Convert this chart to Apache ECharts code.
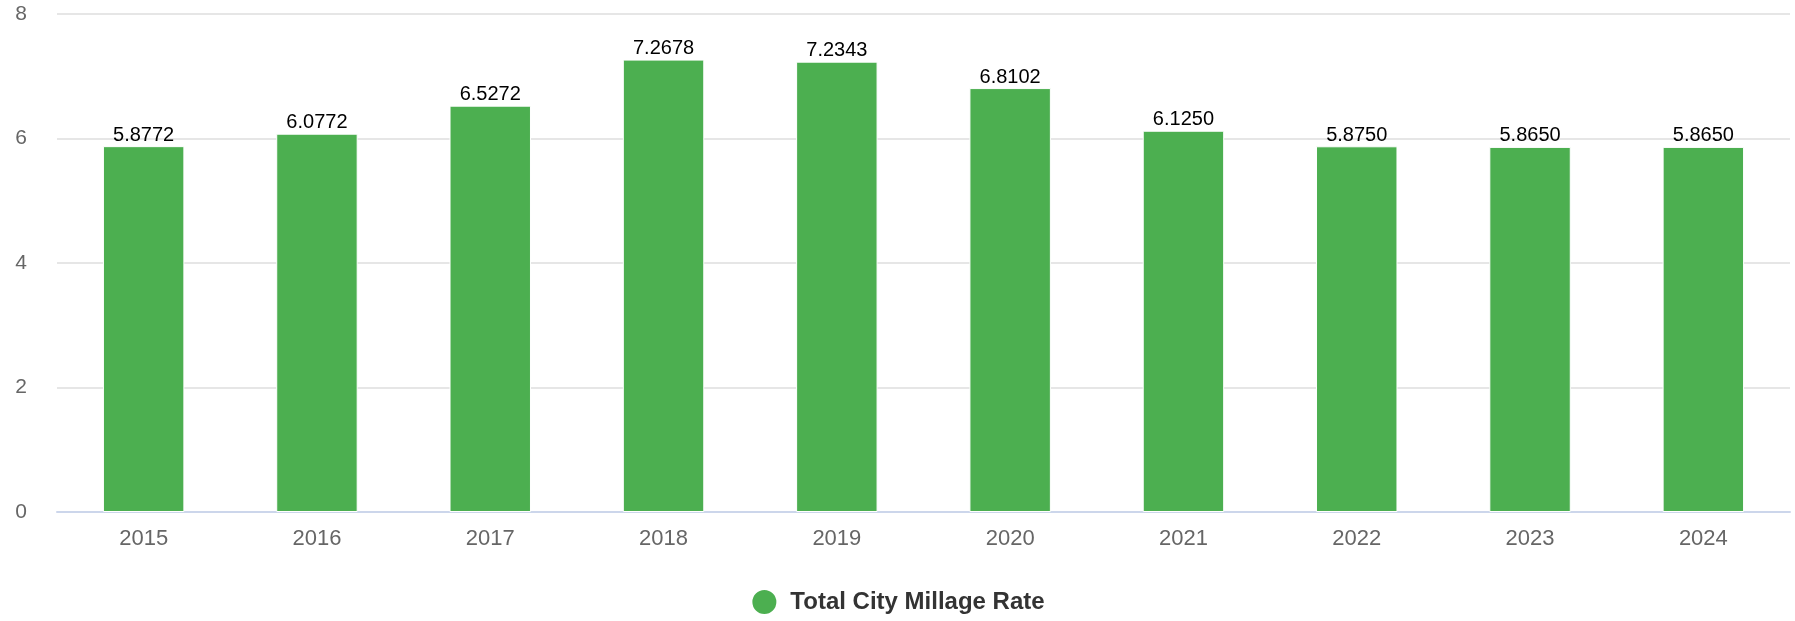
<!DOCTYPE html>
<html>
<head>
<meta charset="utf-8">
<script src="https://cdn.jsdelivr.net/npm/echarts@6/dist/echarts.min.js"></script>
<style>
    html, body { margin: 0; padding: 0; background: #fff; }
    #chart { width: 1795px; height: 621px; }
</style>
</head>
<body>
<div id="chart"></div>
<script>
// 年份
var years = ['2015', '2016', '2017', '2018', '2019', '2020', '2021', '2022', '2023', '2024'];
// Total City Millage Rate
var rates = [5.8772, 6.0772, 6.5272, 7.2678, 7.2343, 6.8102, 6.1250, 5.8750, 5.8650, 5.8650];
var yTicks = [0, 2, 4, 6, 8];

var myChart = echarts.init(document.getElementById('chart'));
var option = {
    animation: false,
    textStyle: { fontFamily: 'Liberation Sans, Arial, sans-serif' },
    grid: {
        left: 57,
        right: 5,
        top: 14,
        bottom: 109
    },
    legend: {
        bottom: 0,
        left: 'center',
        icon: 'circle',
        itemWidth: 26,
        itemHeight: 26,
        itemGap: 10,
        textStyle: { fontSize: 24, fontWeight: 'bold', color: '#333333', padding: [0, 0, 0, 8] },
        data: ['Total City Millage Rate']
    },
    xAxis: {
        type: 'category',
        data: years,
        axisTick: { show: false },
        axisLine: { lineStyle: { color: '#ccd6eb', width: 2 } },
        axisLabel: { color: '#666666', fontSize: 22, margin: 16 }
    },
    yAxis: {
        type: 'value',
        min: yTicks[0],
        max: yTicks[yTicks.length - 1],
        interval: 2,
        axisLine: { show: false },
        axisTick: { show: false },
        splitLine: { lineStyle: { color: '#e6e6e6', width: 2 } },
        axisLabel: { color: '#666666', fontSize: 21, margin: 30 }
    },
    series: [{
        name: 'Total City Millage Rate',
        type: 'bar',
        data: rates,
        barWidth: '47%',
        itemStyle: { color: '#4caf50', borderColor: '#ffffff', borderWidth: 1 },
        label: {
            show: true,
            position: 'top',
            distance: 1,
            color: '#000000',
            fontSize: 20,
            formatter: function (p) { return p.value.toFixed(4); }
        }
    }]
};
myChart.setOption(option);
</script>
</body>
</html>
